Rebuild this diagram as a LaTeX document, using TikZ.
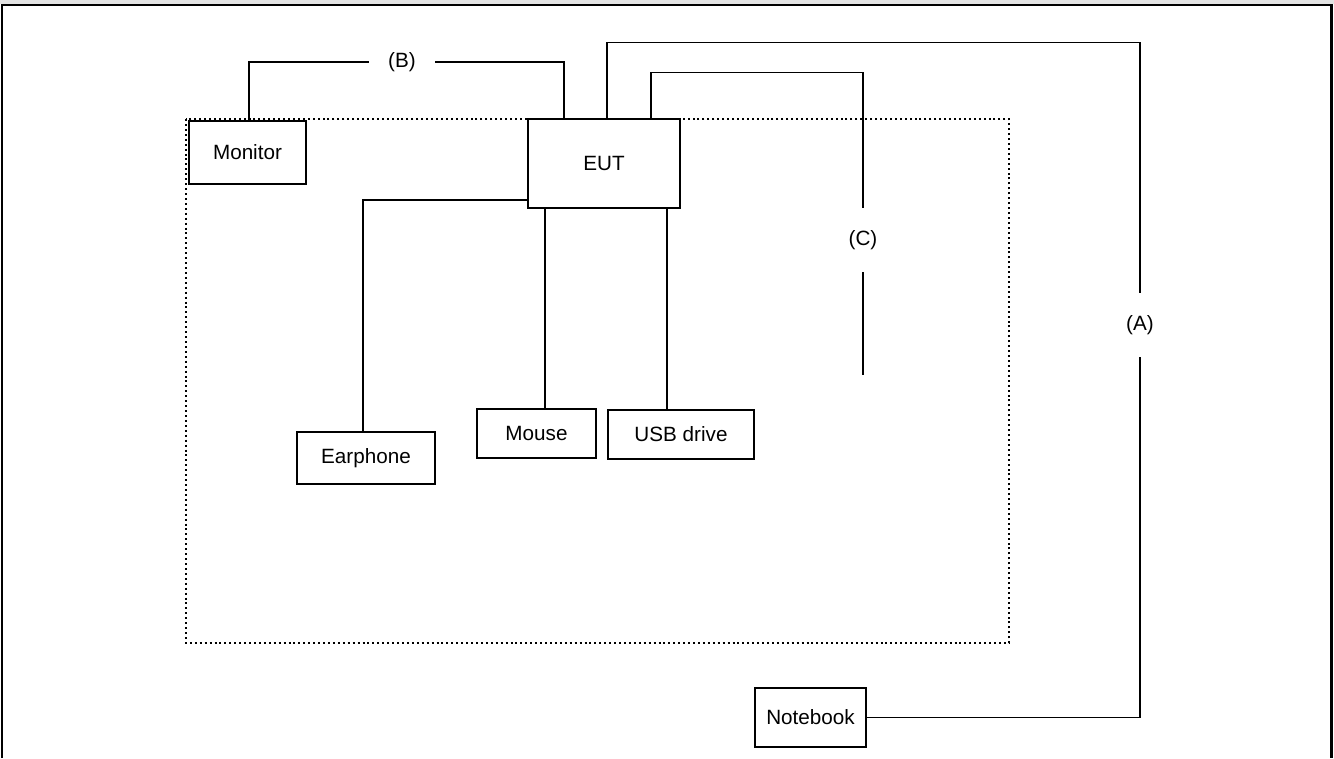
\documentclass[tikz,border=0pt]{standalone}
\usepackage{fontspec}
\setmainfont{Liberation Sans}
\begin{document}
\begin{tikzpicture}[
                x=0.75pt, y=-0.75pt,
                every node/.style={font=\fontsize{15.5}{18}\selectfont},
                device/.style={draw, line width=1pt, inner sep=0pt, fill=white},
                cable/.style={line width=1pt},
                cablelabel/.style={inner sep=0pt},
            ]
            \useasboundingbox (0,0) rectangle (1334,758);
            % page frame
            \fill[gray!22] (0,0) rectangle (1334,4);
            \draw[line width=1.8pt] (2,758) -- (2,5) -- (1331.5,5) -- (1331.5,758);
            % test table
            \draw[line width=1.6pt, dash pattern=on 1.5pt off 2.2pt] (186,119) rectangle (1009,643);
            \node[device, minimum width=87.75pt, minimum height=47.25pt] (mon) at (247.5,152.5) {Monitor};
            \node[device, minimum width=114pt, minimum height=66.75pt] (eut) at (604,163.5) {EUT};
            \node[device, minimum width=103.5pt, minimum height=39pt] (eph) at (366,458) {Earphone};
            \node[device, minimum width=89.25pt, minimum height=36.75pt] (mouse) at (536.5,433.5) {Mouse};
            \node[device, minimum width=109.5pt, minimum height=36.75pt] (usb) at (681,434.5) {USB drive};
            \node[device, minimum width=83.25pt, minimum height=44.25pt] (nb) at (810.5,717.5) {Notebook};
            % cable labels
            \node[cablelabel, minimum width=49.5pt] (labB) at (402,62) {(B)};
            \node[cablelabel, minimum height=48pt] (labA) at (1140,325) {(A)};
            \node[cablelabel, minimum height=48pt] (labC) at (863,240) {(C)};
            \coordinate (endC) at (863,375);
            \coordinate (pM) at ([xshift=6.4pt]mouse.north);
            \coordinate (pU) at ([xshift=-10.5pt]usb.north);
            % cables
            \draw[cable] ([xshift=1pt]mon.north) |- (labB.west);
            \draw[cable] (labB.east) -| ([xshift=-30pt]eut.north);
            \draw[cable] ([xshift=2.25pt]eut.north) -- ++(0,-76) -| (labA.north);
            \draw[cable] (labA.south) |- (nb.east);
            \draw[cable] ([xshift=35.25pt]eut.north) -- ++(0,-46) -| (labC.north);
            \draw[cable] (labC.south) -- (endC);
            \draw[cable] ([xshift=-2.25pt]eph.north) |- ([yshift=-27.4pt]eut.west);
            \draw[cable] (pM) -- (pM |- eut.south);
            \draw[cable] (pU) -- (pU |- eut.south);
            \end{tikzpicture}
\end{document}
